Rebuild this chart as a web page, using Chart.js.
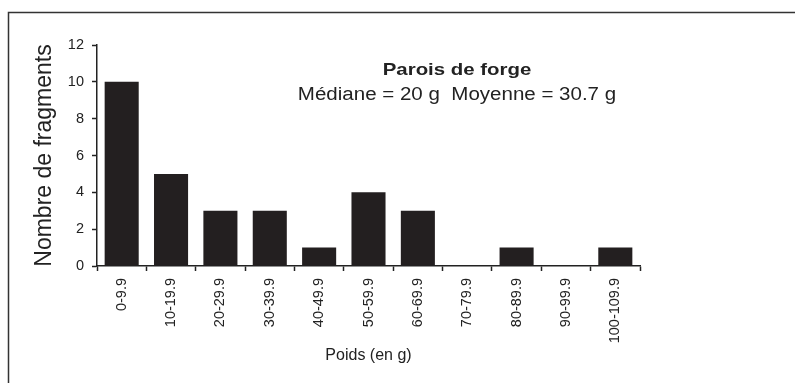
<!DOCTYPE html>
<html>
<head>
<meta charset="utf-8">
<script src="https://cdn.jsdelivr.net/npm/chart.js@4"></script>
<style>
  html, body { margin: 0; padding: 0; background: #fff; }
  #wrap { width: 795px; height: 383px; }
</style>
</head>
<body>
<div id="wrap"><canvas id="poids"></canvas></div>
<script>
  const classes = ['0-9.9', '10-19.9', '20-29.9', '30-39.9', '40-49.9', '50-59.9',
                   '60-69.9', '70-79.9', '80-89.9', '90-99.9', '100-109.9'];
  const fragments = [10, 5, 3, 3, 1, 4, 3, 0, 1, 0, 1];
  const yTicks = [0, 2, 4, 6, 8, 10, 12];

  const ink = '#222222';
  const family = '"Liberation Sans", Arial, sans-serif';

  // wide text drawn with a horizontal stretch
  function wideText(c, txt, x, y, font, sx) {
    c.save();
    c.font = font;
    c.translate(x, y);
    c.scale(sx, 1);
    c.fillText(txt, 0, 0);
    c.restore();
  }

  // frame line and the two-line heading inside the plot
  const decor = {
    id: 'decor',
    afterDraw(chart) {
      const c = chart.ctx;
      c.save();
      c.strokeStyle = '#333';
      c.lineWidth = 1.5;
      c.beginPath();
      c.moveTo(8.5, 800);
      c.lineTo(8.5, 12.5);
      c.lineTo(800, 12.5);
      c.stroke();

      c.fillStyle = ink;
      c.textAlign = 'center';
      c.textBaseline = 'middle';
      wideText(c, 'Parois de forge', 457, 70, 'bold 17px ' + family, 1.2);
      wideText(c, 'Médiane = 20 g  Moyenne = 30.7 g', 457, 95, '18px ' + family, 1.14);
      c.restore();
    }
  };

  new Chart(document.getElementById('poids'), {
    type: 'bar',
    data: {
      labels: classes,
      datasets: [{
        data: fragments,
        backgroundColor: '#231f20',
        borderWidth: 0,
        categoryPercentage: 1,
        barPercentage: 0.69
      }]
    },
    options: {
      responsive: true,
      maintainAspectRatio: false,
      animation: false,
      layout: { padding: { left: 0, right: 155, top: 45, bottom: 0 } },
      plugins: {
        legend: { display: false },
        tooltip: { enabled: false }
      },
      scales: {
        x: {
          offset: true,
          afterFit(axis) { axis.height = 117; },
          grid: {
            offset: true,
            drawOnChartArea: false,
            tickLength: 5,
            tickColor: ink,
            tickWidth: 1.5
          },
          border: { color: ink, width: 1.5 },
          ticks: {
            color: ink,
            minRotation: 90,
            maxRotation: 90,
            padding: 7,
            font: { family: family, size: 14.5 }
          },
          title: {
            display: true,
            text: 'Poids (en g)',
            color: ink,
            padding: { top: 0, bottom: 18 },
            font: { family: family, size: 16 }
          }
        },
        y: {
          min: 0,
          max: 12,
          afterFit(axis) { axis.width = 97; },
          afterBuildTicks(axis) {
            axis.ticks = yTicks.map(v => ({ value: v }));
          },
          grid: {
            drawOnChartArea: false,
            tickLength: 5,
            tickColor: ink,
            tickWidth: 1.5
          },
          border: { color: ink, width: 1.5 },
          ticks: {
            color: ink,
            padding: 8,
            font: { family: family, size: 14.5 }
          },
          title: {
            display: true,
            text: 'Nombre de fragments',
            color: ink,
            padding: { top: 31, bottom: 0 },
            font: { family: family, size: 23 }
          }
        }
      }
    },
    plugins: [decor]
  });
</script>
</body>
</html>
